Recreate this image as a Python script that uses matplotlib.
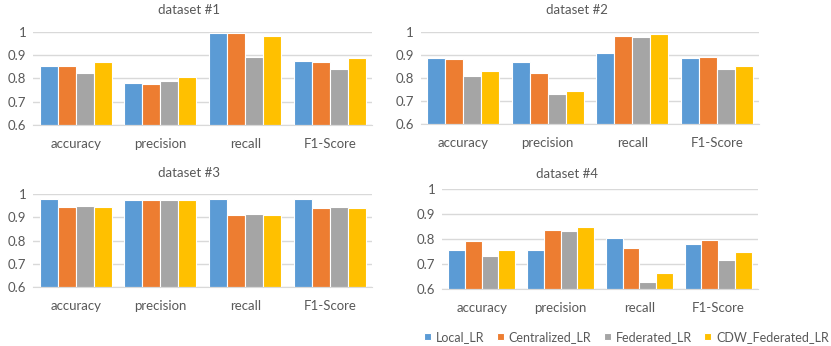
import matplotlib
matplotlib.use("Agg")
import matplotlib.pyplot as plt
import numpy as np

# 四个数据集上各方法的指标
metrics = ["accuracy", "precision", "recall", "F1-Score"]
methods = ["Local_LR", "Centralized_LR", "Federated_LR", "CDW_Federated_LR"]
colors = ["#5B9BD5", "#ED7D31", "#A5A5A5", "#FFC000"]

# 每行对应一个方法，列顺序与 metrics 一致
ds1 = [[0.854, 0.779, 0.993, 0.873],
       [0.851, 0.776, 0.993, 0.871],
       [0.824, 0.787, 0.893, 0.839],
       [0.869, 0.804, 0.983, 0.886]]
ds2 = [[0.886, 0.868, 0.909, 0.886],
       [0.883, 0.820, 0.983, 0.892],
       [0.810, 0.732, 0.976, 0.837],
       [0.829, 0.744, 0.990, 0.850]]
ds3 = [[0.977, 0.974, 0.977, 0.977],
       [0.943, 0.975, 0.911, 0.940],
       [0.947, 0.975, 0.914, 0.943],
       [0.943, 0.975, 0.911, 0.940]]
ds4 = [[0.756, 0.759, 0.807, 0.781],
       [0.792, 0.836, 0.765, 0.799],
       [0.732, 0.833, 0.631, 0.719],
       [0.756, 0.848, 0.667, 0.748]]
titles = ["dataset #1", "dataset #2", "dataset #3", "dataset #4"]
yticks = [0.6, 0.7, 0.8, 0.9, 1.0]
ytick_labels = ["0.6", "0.7", "0.8", "0.9", "1"]

plt.rcParams['font.family'] = ['Lato', 'DejaVu Sans']
text_color = "#595959"
grid_color = "#D9D9D9"

fig = plt.figure(figsize=(8.31, 3.46), dpi=100)

# 坐标区位置（left, bottom, width, height）以及标题位置
positions = [[0.0401, 0.6387, 0.408, 0.2697],
             [0.5066, 0.6408, 0.4067, 0.2676],
             [0.0401, 0.1697, 0.408, 0.2697],
             [0.5322, 0.1639, 0.3795, 0.2890]]
title_pos = [(0.459, 1.235), (0.462, 1.235), (0.459, 1.22), (0.395, 1.15)]

datasets = [ds1, ds2, ds3, ds4]
x = np.arange(len(metrics))
width = 0.85 / len(methods)

handles = []
for k in range(4):
    ax = fig.add_axes(positions[k])
    data = datasets[k]
    for i in range(len(methods)):
        offset = (i - 1.5) * width
        b = ax.bar(x + offset, np.array(data[i]) - 0.6, width, bottom=0.6,
                   color=colors[i], edgecolor="white", linewidth=0.8,
                   label=methods[i], zorder=3)
        if k == 0:
            handles.append(b)
    ax.set_xlim(-0.5, len(metrics) - 0.5)
    ax.set_ylim(0.6, 1.0)
    ax.set_yticks(yticks)
    ax.set_yticklabels(ytick_labels)
    ax.set_xticks(x)
    ax.set_xticklabels(metrics)
    ax.tick_params(axis="both", length=0, colors=text_color, labelsize=9.5)
    ax.tick_params(axis="x", pad=9)
    ax.tick_params(axis="y", pad=5)
    ax.grid(axis="y", color=grid_color, linewidth=1, zorder=0)
    for s in ["top", "right", "left"]:
        ax.spines[s].set_visible(False)
    ax.spines["bottom"].set_color(grid_color)
    ax.spines["bottom"].set_zorder(4)
    ax.text(title_pos[k][0], title_pos[k][1], titles[k], transform=ax.transAxes,
            ha="center", va="center", color=text_color, fontsize=9.5)

fig.legend(handles, methods, loc="center right", bbox_to_anchor=(0.999, 0.026), ncol=4,
           frameon=False, fontsize=9, labelcolor=text_color,
           handlelength=0.55, handleheight=0.55, handletextpad=0.4,
           columnspacing=1.0, borderpad=0.1, borderaxespad=0.0)

fig.savefig("out.png", dpi=100)
